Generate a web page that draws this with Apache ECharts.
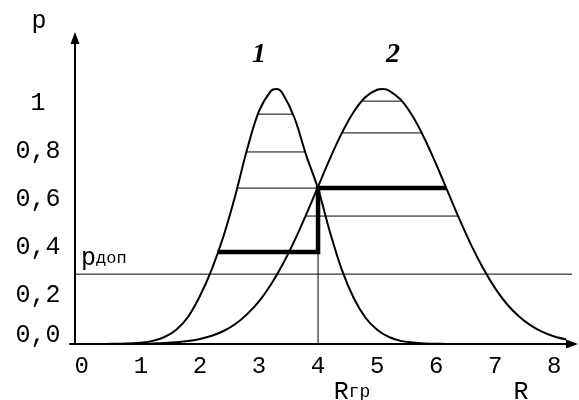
<!DOCTYPE html>
<html>
<head>
<meta charset="utf-8">
<script src="https://cdn.jsdelivr.net/npm/echarts@6/dist/echarts.min.js"></script>
<style>
html, body { margin: 0; padding: 0; background: #fff; }
#chart { width: 579px; height: 400px; }
</style>
</head>
<body>
<div id="chart"></div>
<script>
// Curve 1: probability p against R
const curve1R = [0.2, 0.4, 0.6, 0.8, 1.0, 1.2, 1.4, 1.6, 1.8, 2.0, 2.2, 2.4, 2.6, 2.8, 3.0, 3.2, 3.3, 3.4, 3.6, 3.8, 4.0, 4.2, 4.4, 4.6, 4.8, 5.0, 5.2, 5.4, 5.6, 5.8, 6.0, 6.2, 6.4, 6.6, 6.8];
const curve1P = [0, 0, 0.001, 0.002, 0.005, 0.013, 0.029, 0.059, 0.113, 0.199, 0.310, 0.448, 0.617, 0.809, 0.966, 1.050, 1.058, 1.040, 0.939, 0.783, 0.645, 0.466, 0.310, 0.193, 0.110, 0.059, 0.029, 0.013, 0.006, 0.002, 0.001, 0, 0, 0, 0];

// Curve 2: probability p against R
const curve2R = [0.2, 0.4, 0.6, 0.8, 1.0, 1.2, 1.4, 1.6, 1.8, 2.0, 2.2, 2.4, 2.6, 2.8, 3.0, 3.2, 3.4, 3.6, 3.8, 4.0, 4.2, 4.4, 4.6, 4.8, 5.0, 5.1, 5.2, 5.4, 5.6, 5.8, 6.0, 6.2, 6.4, 6.6, 6.8, 7.0, 7.2, 7.4, 7.6, 7.8, 8.0, 8.2];
const curve2P = [0, 0, 0, 0.001, 0.001, 0.002, 0.004, 0.007, 0.012, 0.021, 0.034, 0.054, 0.083, 0.124, 0.177, 0.246, 0.330, 0.428, 0.538, 0.653, 0.768, 0.874, 0.962, 1.024, 1.055, 1.058, 1.052, 1.014, 0.946, 0.854, 0.746, 0.630, 0.515, 0.407, 0.312, 0.231, 0.165, 0.115, 0.077, 0.050, 0.031, 0.019];

// Hatching inside curve 1: level, left end, right end
const hatch1Level = [0.954, 0.797, 0.647];
const hatch1From = [2.98, 2.79, 2.63];
const hatch1To = [3.57, 3.78, 4.0];

// Hatching inside curve 2
const hatch2Level = [1.008, 0.876, 0.531];
const hatch2From = [4.75, 4.40, 3.79];
const hatch2To = [5.42, 5.75, 6.37];

// Stepped boundary (bold)
const stepR = [2.30, 4.0, 4.0, 6.17];
const stepP = [0.382, 0.382, 0.647, 0.647];

// Permissible level p_доп and boundary R_гр
const pDop = 0.29;
const rGr = 4.0;

// Axis ranges and tick labels
const xMin = -0.2, xMax = 8.3;
const yMin = 0, yMax = 1.27;
const xTicks = [0, 1, 2, 3, 4, 5, 6, 7, 8];
const yTicks = [0, 0.2, 0.4, 0.6, 0.8, 1];

const MONO = '"Liberation Mono", "Courier New", monospace';
const SERIF = '"Liberation Serif", "Times New Roman", serif';

function zip(xs, ys) { return xs.map((x, i) => [x, ys[i]]); }

function lineSeries(data, width, extra) {
  return Object.assign({
    type: 'line',
    data: data,
    symbol: 'none',
    silent: true,
    animation: false,
    clip: false,
    lineStyle: { color: '#000', width: width, cap: 'butt', join: 'miter' }
  }, extra || {});
}

const series = [];
// permissible level and boundary
series.push(lineSeries([[xMin + 0.08, pDop], [xMax, pDop]], 1));
series.push(lineSeries([[rGr, 0], [rGr, stepP[2]]], 1));
// hatching
hatch1Level.forEach((lv, i) => series.push(lineSeries([[hatch1From[i], lv], [hatch1To[i], lv]], 1)));
hatch2Level.forEach((lv, i) => series.push(lineSeries([[hatch2From[i], lv], [hatch2To[i], lv]], 1)));
// curves
series.push(lineSeries(zip(curve1R, curve1P), 2, { smooth: 0.35 }));
series.push(lineSeries(zip(curve2R, curve2P), 2, { smooth: 0.35 }));
// bold step
series.push(lineSeries(zip(stepR, stepP), 4.5));

const chart = echarts.init(document.getElementById('chart'), null, { renderer: 'canvas' });
chart.setOption({
  backgroundColor: '#fff',
  animation: false,
  grid: { left: 70, top: 38, width: 502, height: 306, containLabel: false },
  xAxis: {
    type: 'value', min: xMin, max: xMax,
    axisLine: { show: true, onZero: true, symbol: ['none', 'triangle'], symbolSize: [9, 12],
      lineStyle: { color: '#000', width: 2 } },
    axisTick: { show: false },
    splitLine: { show: false },
    axisLabel: {
      customValues: xTicks,
      formatter: v => String(v),
      color: '#000', fontFamily: MONO, fontSize: 24, margin: 11
    }
  },
  yAxis: {
    type: 'value', min: yMin, max: yMax, offset: -5,
    axisLine: { show: true, onZero: false, symbol: ['none', 'triangle'], symbolSize: [9, 12],
      lineStyle: { color: '#000', width: 2 } },
    axisTick: { show: false },
    splitLine: { show: false },
    axisLabel: {
      customValues: yTicks,
      formatter: v => v === 0 ? '{low|0,0}' : (v === 1 ? '1' : v.toFixed(1).replace('.', ',')),
      rich: { low: { padding: [0, 0, 18, 0] } },
      color: '#000', fontFamily: MONO, fontSize: 25, align: 'center', margin: 37
    }
  },
  graphic: [
    { type: 'text', x: 39, y: 21, style: { text: 'p', fill: '#000', font: '25px ' + MONO, align: 'center', verticalAlign: 'middle' } },
    { type: 'text', x: 259, y: 55, style: { text: '1', fill: '#000', font: 'italic bold 28px ' + SERIF, align: 'center', verticalAlign: 'middle' } },
    { type: 'text', x: 393, y: 55, style: { text: '2', fill: '#000', font: 'italic bold 28px ' + SERIF, align: 'center', verticalAlign: 'middle' } },
    { type: 'text', x: 81, y: 271, style: { text: '{a|p}{b|доп}', fill: '#000', align: 'left', verticalAlign: 'bottom',
        rich: { a: { fontFamily: MONO, fontSize: 25, fill: '#000' }, b: { fontFamily: MONO, fontSize: 17, fill: '#000' } } } },
    { type: 'text', x: 352, y: 405, style: { text: '{a|R}{b|гр}', fill: '#000', align: 'center', verticalAlign: 'bottom',
        rich: { a: { fontFamily: MONO, fontSize: 25, fill: '#000' }, b: { fontFamily: MONO, fontSize: 18, fill: '#000' } } } },
    { type: 'text', x: 521, y: 405, style: { text: 'R', fill: '#000', font: '25px ' + MONO, align: 'center', verticalAlign: 'bottom' } }
  ],
  series: series
});
</script>
</body>
</html>
